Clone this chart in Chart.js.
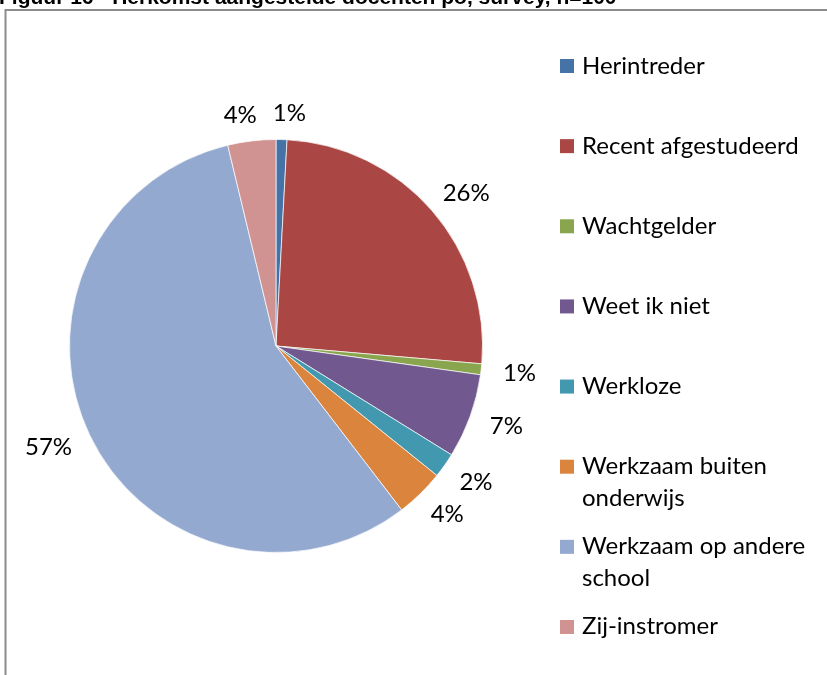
<!DOCTYPE html>
<html>
<head>
<meta charset="utf-8">
<script src="https://cdn.jsdelivr.net/npm/chart.js@4"></script>
<style>
  html, body { margin: 0; padding: 0; background: #ffffff; overflow: hidden; }
  #wrap { position: relative; width: 827px; height: 675px; }
</style>
</head>
<body>
<div id="wrap"><canvas id="c" width="827" height="675"></canvas></div>
<script>
// ---- data ----
const titleText = "Figuur 16 - Herkomst aangestelde docenten po, survey, n=100";
const categories = [
  "Herintreder",
  "Recent afgestudeerd",
  "Wachtgelder",
  "Weet ik niet",
  "Werkloze",
  "Werkzaam buiten onderwijs",
  "Werkzaam op andere school",
  "Zij-instromer"
];
const shares = [0.85, 25.5, 0.85, 6.6, 1.95, 3.8, 56.6, 3.75];
const sliceColors = ["#4572A7", "#AA4643", "#89A54E", "#71588F", "#4198AF", "#DB843D", "#93A9CF", "#D19392"];

const FONT = "Lato, 'Open Sans', 'DejaVu Sans', sans-serif";

function wrapText(ctx, text, maxW) {
  const words = text.split(" ");
  const lines = [];
  let cur = "";
  for (const w of words) {
    const test = cur ? cur + " " + w : w;
    if (ctx.measureText(test).width > maxW && cur) { lines.push(cur); cur = w; }
    else cur = test;
  }
  if (cur) lines.push(cur);
  return lines;
}

const decor = {
  id: "decor",
  beforeDraw(chart) {
    const ctx = chart.ctx;
    ctx.save();
    // outer frame
    ctx.strokeStyle = "#8c8c8c";
    ctx.lineWidth = 2;
    ctx.beginPath();
    ctx.moveTo(5.5, 700);
    ctx.lineTo(5.5, 10);
    ctx.lineTo(840, 10);
    ctx.stroke();
    // title (cut off at the top as in the reference)
    ctx.fillStyle = "#000000";
    ctx.font = "bold 21px 'Liberation Sans', Arial, sans-serif";
    ctx.textAlign = "left";
    ctx.textBaseline = "alphabetic";
    ctx.fillText(titleText, -1, 4);
    ctx.restore();
  },
  afterDraw(chart) {
    const ctx = chart.ctx;
    const ds = chart.data.datasets[0];
    const total = ds.data.reduce((a, b) => a + b, 0);
    ctx.save();
    ctx.font = "24px " + FONT;
    ctx.fillStyle = "#000000";
    // percentage labels outside the slices
    const meta = chart.getDatasetMeta(0);
    const gap = 22, halfH = 8.6, pad = 8;
    const boxes = meta.data.map((arc, i) => {
      const p = arc.getProps(["x", "y", "startAngle", "endAngle", "outerRadius"], true);
      const mid = (p.startAngle + p.endAngle) / 2;
      const dx = Math.cos(mid), dy = Math.sin(mid);
      const txt = Math.round(ds.data[i] / total * 100) + "%";
      const w = ctx.measureText(txt).width;
      const px = p.x + (p.outerRadius + gap) * dx;
      const py = p.y + (p.outerRadius + gap) * dy;
      return { txt, w, cx: px + dx * w / 2, cy: py + dy * halfH * 0.6 };
    });
    // simple overlap resolution (push apart horizontally)
    for (let a = 0; a < boxes.length; a++) {
      for (let b = a + 1; b < boxes.length; b++) {
        const A = boxes[a], B = boxes[b];
        if (Math.abs(A.cy - B.cy) > 2 * halfH + 4) continue;
        const need = (A.w + B.w) / 2 + 2 * pad;
        const dist = Math.abs(A.cx - B.cx);
        if (dist < need) {
          const push = (need - dist) / 2;
          if (A.cx < B.cx) { A.cx -= push; B.cx += push; } else { A.cx += push; B.cx -= push; }
        }
      }
    }
    ctx.textAlign = "center";
    ctx.textBaseline = "alphabetic";
    boxes.forEach(bx => ctx.fillText(bx.txt, bx.cx, bx.cy + halfH));
    // legend
    const lx = 560, tx = 582, y0 = 66, step = 80.14, lineH = 32, maxW = 240;
    chart.data.labels.forEach((lab, i) => {
      const cyc = y0 + i * step;
      ctx.fillStyle = ds.backgroundColor[i];
      ctx.fillRect(lx, cyc - 7, 14, 14);
      ctx.fillStyle = "#000000";
      ctx.textAlign = "left";
      const lines = wrapText(ctx, lab, maxW);
      lines.forEach((ln, k) => ctx.fillText(ln, tx, cyc + 7.5 + k * lineH));
    });
    ctx.restore();
  }
};

new Chart(document.getElementById("c"), {
  type: "pie",
  data: {
    labels: categories,
    datasets: [{
      data: shares,
      backgroundColor: sliceColors,
      borderColor: "rgba(255,255,255,0.7)",
      borderWidth: 1
    }]
  },
  options: {
    responsive: false,
    animation: false,
    layout: { padding: { left: 69, right: 344, top: 139, bottom: 122 } },
    plugins: {
      legend: { display: false },
      title: { display: false },
      tooltip: { enabled: false }
    }
  },
  plugins: [decor]
});
</script>
</body>
</html>
